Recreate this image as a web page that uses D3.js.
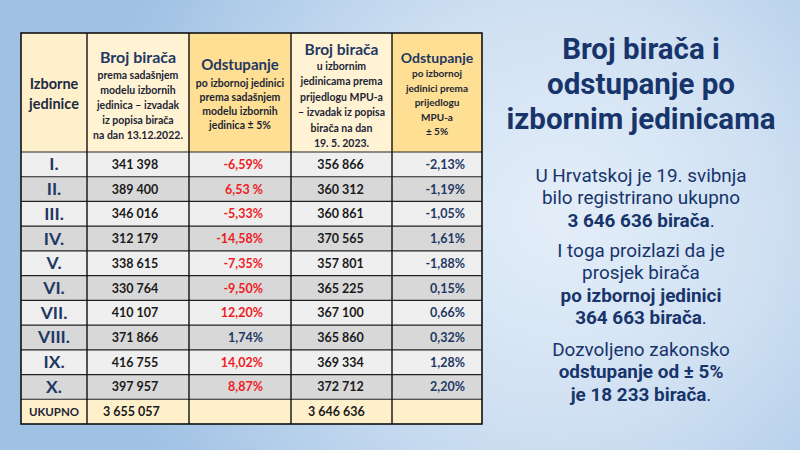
<!DOCTYPE html>
<html><head><meta charset="utf-8">
<script src="https://cdn.jsdelivr.net/npm/d3@7"></script>
<style>html,body{margin:0;padding:0;overflow:hidden;}svg{display:block;}</style>
</head><body>
<script>
// ---- data ----
const units = ["I.", "II.", "III.", "IV.", "V.", "VI.", "VII.", "VIII.", "IX.", "X."];
const votersCurrent = [341398, 389400, 346016, 312179, 338615, 330764, 410107, 371866, 416755, 397957];
const deviationCurrent = [-6.59, 6.53, -5.33, -14.58, -7.35, -9.50, 12.20, 1.74, 14.02, 8.87];
const deviationCurrentLabels = ["-6,59%", "6,53 %", "-5,33%", "-14,58%", "-7,35%", "-9,50%", "12,20%", "1,74%", "14,02%", "8,87%"];
const votersProposed = [356866, 360312, 360861, 370565, 357801, 365225, 367100, 365860, 369334, 372712];
const deviationProposed = [-2.13, -1.19, -1.05, 1.61, -1.88, 0.15, 0.66, 0.32, 1.28, 2.20];
const totalLabel = "UKUPNO";
const totals = [3655057, 3646636];
const columns = ["unit", "votersCurrent", "devCurrent", "votersProposed", "devProposed"];
const headerCol0 = ["Izborne", "jedinice"];
const headerCol1Title = "Broj birača";
const headerCol1Sub = ["prema sadašnjem", "modelu izbornih", "jedinica –  izvadak", "iz popisa birača", "na dan 13.12.2022."];
const headerCol2Title = "Odstupanje";
const headerCol2Sub = ["po izbornoj jedinici", "prema sadašnjem", "modelu izbornih", "jedinica ± 5%"];
const headerCol3Title = "Broj birača";
const headerCol3Sub = ["u izbornim", "jedinicama prema", "prijedlogu MPU-a", "– izvadak iz popisa", "birača na dan", "19. 5. 2023."];
const headerCol4Title = "Odstupanje";
const headerCol4Sub = ["po izbornoj", "jedinici prema", "prijedlogu", "MPU-a", "± 5%"];
const titleLines = ["Broj birača i", "odstupanje po", "izbornim jedinicama"];
const noteParagraphs = [
  [{t: "U Hrvatskoj je 19. svibnja", b: false},
   {t: "bilo registrirano ukupno", b: false},
   {t: "3 646 636 birača", b: true, dot: true}],
  [{t: "I toga proizlazi da je", b: false},
   {t: "prosjek birača", b: false},
   {t: "po izbornoj jedinici", b: true},
   {t: "364 663 birača", b: true, dot: true}],
  [{t: "Dozvoljeno zakonsko", b: false},
   {t: "odstupanje od ± 5%", b: true},
   {t: "je 18 233 birača", b: true, dot: true}]
];

// ---- setup ----
const W = 800, H = 450;
const FONT = "Lato, 'Open Sans', sans-serif";
const SIDE_FONT = "Roboto, 'Liberation Sans', sans-serif";
const NAVY = "#1f3864";
const svg = d3.select("body").append("svg").attr("width", W).attr("height", H);
const defs = svg.append("defs");
const rg = defs.append("radialGradient").attr("id", "bg").attr("gradientUnits", "userSpaceOnUse")
  .attr("cx", 560).attr("cy", 215).attr("r", 470);
rg.append("stop").attr("offset", "0").attr("stop-color", "#e4eef9");
rg.append("stop").attr("offset", "0.45").attr("stop-color", "#cfe0f2");
rg.append("stop").attr("offset", "1").attr("stop-color", "#9fc1e4");
svg.append("rect").attr("width", W).attr("height", H).attr("fill", "url(#bg)");

const locale = d3.formatLocale({decimal: ",", thousands: " ", grouping: [3], currency: ["", ""], minus: "-"});
const fmtInt = locale.format(",d");
const fmtPct = v => locale.format(".2f")(v) + "%";

// table geometry via scales
const colWidths = [66, 102, 102, 101, 90];
const colEdges = d3.cumsum([0].concat(colWidths));
const xCol = d3.scaleOrdinal().domain(columns).range(colEdges.slice(0, 5).map(v => 21 + v));
const wCol = d3.scaleOrdinal().domain(columns).range(colWidths);
const tableLeft = 21, tableRight = 21 + colEdges[5];
const headerTop = 33, headerBottom = 152;
const rowKeys = units.concat([totalLabel]);
const yRow = d3.scaleBand().domain(rowKeys).range([headerBottom, 424]).padding(0);

const g = svg.append("g");

// header cells
const headerFill = {unit: "#fff0cc", votersCurrent: "#fff3d3", devCurrent: "#fedf93", votersProposed: "#fff3d3", devProposed: "#fedf93"};
g.selectAll("rect.hdr").data(columns).join("rect").attr("class", "hdr")
  .attr("x", d => xCol(d)).attr("y", headerTop).attr("width", d => wCol(d)).attr("height", headerBottom - headerTop)
  .attr("fill", d => headerFill[d]);

// body rows
units.forEach((u, i) => {
  g.append("rect").attr("x", tableLeft).attr("y", yRow(u)).attr("width", tableRight - tableLeft)
    .attr("height", yRow.bandwidth()).attr("fill", i % 2 === 0 ? "#efefef" : "#d8d8d8");
});
g.append("rect").attr("x", tableLeft).attr("y", yRow(totalLabel)).attr("width", tableRight - tableLeft)
  .attr("height", yRow.bandwidth()).attr("fill", "#fff0cc");

// header texts (one text element per cell, lines as tspans)
const cx = c => xCol(c) + wCol(c) / 2;
function headerBlock(col, title, titleSize, titleY, subs, subGap, subStep, subSize) {
  const t = g.append("text").attr("x", cx(col)).attr("y", titleY).attr("text-anchor", "middle")
    .attr("font-family", FONT).attr("font-weight", 700);
  t.append("tspan").attr("font-size", titleSize).attr("fill", NAVY).text(title);
  subs.forEach((s, i) => {
    t.append("tspan").attr("x", cx(col)).attr("dy", i === 0 ? subGap : subStep)
      .attr("font-size", subSize).attr("fill", "#1d2535").text(s);
  });
}
{
  const t = g.append("text").attr("x", cx("unit")).attr("y", 89).attr("text-anchor", "middle")
    .attr("font-family", FONT).attr("font-weight", 700).attr("font-size", 14.5).attr("fill", "#1d2a40");
  headerCol0.forEach((s, i) => t.append("tspan").attr("x", cx("unit")).attr("dy", i === 0 ? 0 : 20).text(s));
}
headerBlock("votersCurrent", headerCol1Title, 16, 63, headerCol1Sub, 16, 15, 10.5);
headerBlock("devCurrent", headerCol2Title, 15, 70, headerCol2Sub, 17, 14, 10.5);
headerBlock("votersProposed", headerCol3Title, 15.5, 55, headerCol3Sub, 15, 15.4, 10.5);
headerBlock("devProposed", headerCol4Title, 14, 63, headerCol4Sub, 14, 14.5, 10);

// body texts
const midY = k => yRow(k) + yRow.bandwidth() / 2;
const rows = units.map((u, i) => ({u, vc: votersCurrent[i], dc: deviationCurrent[i], dcl: deviationCurrentLabels[i], vp: votersProposed[i], dp: deviationProposed[i]}));
const body = g.selectAll("g.row").data(rows).join("g").attr("class", "row");
body.append("text").attr("x", cx("unit")).attr("y", d => midY(d.u) + 6).attr("text-anchor", "middle")
  .attr("font-family", FONT).attr("font-weight", 700).attr("font-size", 17.5).attr("fill", NAVY).text(d => d.u);
body.append("text").attr("x", cx("votersCurrent") - 3).attr("y", d => midY(d.u) + 4.5).attr("text-anchor", "middle")
  .attr("font-family", FONT).attr("font-weight", 700).attr("font-size", 12.5).attr("fill", "#1a1a1a").text(d => fmtInt(d.vc));
body.append("text").attr("x", xCol("devCurrent") + wCol("devCurrent") - 28).attr("y", d => midY(d.u) + 4.5).attr("text-anchor", "end")
  .attr("font-family", FONT).attr("font-weight", 700).attr("font-size", 12.5)
  .attr("fill", d => Math.abs(d.dc) > 5 ? "#ee1c25" : NAVY).text(d => d.dcl);
body.append("text").attr("x", cx("votersProposed") - 1).attr("y", d => midY(d.u) + 4.5).attr("text-anchor", "middle")
  .attr("font-family", FONT).attr("font-weight", 700).attr("font-size", 12.5).attr("fill", "#1a1a1a").text(d => fmtInt(d.vp));
body.append("text").attr("x", xCol("devProposed") + wCol("devProposed") - 17).attr("y", d => midY(d.u) + 4.5).attr("text-anchor", "end")
  .attr("font-family", FONT).attr("font-weight", 700).attr("font-size", 12.5)
  .attr("fill", d => Math.abs(d.dp) > 5 ? "#ee1c25" : NAVY).text(d => fmtPct(d.dp));

// totals row
g.append("text").attr("x", cx("unit")).attr("y", midY(totalLabel) + 4).attr("text-anchor", "middle")
  .attr("font-family", FONT).attr("font-weight", 700).attr("font-size", 11.5).attr("fill", "#1d2535").text(totalLabel);
g.append("text").attr("x", xCol("votersCurrent") + 16).attr("y", midY(totalLabel) + 4.5)
  .attr("font-family", FONT).attr("font-weight", 700).attr("font-size", 12.5).attr("fill", "#1a1a1a").text(fmtInt(totals[0]));
g.append("text").attr("x", xCol("votersProposed") + 17).attr("y", midY(totalLabel) + 4.5)
  .attr("font-family", FONT).attr("font-weight", 700).attr("font-size", 12.5).attr("fill", "#1a1a1a").text(fmtInt(totals[1]));

// grid lines
rowKeys.forEach(k => {
  g.append("line").attr("x1", tableLeft).attr("x2", tableRight).attr("y1", yRow(k)).attr("y2", yRow(k))
    .attr("stroke", "#222").attr("stroke-width", 1.2);
});
columns.slice(1).forEach(c => {
  g.append("line").attr("x1", xCol(c)).attr("x2", xCol(c)).attr("y1", headerTop).attr("y2", 424)
    .attr("stroke", "#111").attr("stroke-width", 1.4);
});
g.append("rect").attr("x", tableLeft).attr("y", headerTop).attr("width", tableRight - tableLeft).attr("height", 424 - headerTop)
  .attr("fill", "none").attr("stroke", "#111").attr("stroke-width", 1.6);

// helper: fit font size so a reference line reaches a target width, capped
function fitSize(text, weight, family, targetW, cap) {
  const probe = svg.append("text").attr("font-family", family).attr("font-weight", weight)
    .attr("font-size", 20).text(text);
  const w = probe.node().getComputedTextLength();
  probe.remove();
  return Math.min(cap, 20 * targetW / w);
}

// title (single text, lines as tspans)
{
  const fs = fitSize(titleLines[2], 700, SIDE_FONT, 283, 29.5);
  const t = svg.append("text").attr("x", 641).attr("y", 59).attr("text-anchor", "middle")
    .attr("font-family", SIDE_FONT).attr("font-weight", 700).attr("font-size", fs).attr("fill", "#17346b");
  titleLines.forEach((s, i) => t.append("tspan").attr("x", 641).attr("dy", i === 0 ? 0 : 35).text(s));
}

// notes: one text per paragraph
const noteFs = fitSize(noteParagraphs[0][0].t, 400, SIDE_FONT, 235, 18.9);
const paraY = [182, 257, 356];
noteParagraphs.forEach((para, p) => {
  const t = svg.append("text").attr("x", 641).attr("y", paraY[p]).attr("text-anchor", "middle")
    .attr("font-family", SIDE_FONT).attr("font-size", noteFs).attr("fill", "#17346b");
  para.forEach((d, i) => {
    t.append("tspan").attr("x", 641).attr("dy", i === 0 ? 0 : 22.3)
      .attr("font-weight", d.b ? 700 : 400).text(d.t);
    if (d.dot) t.append("tspan").attr("font-weight", 400).text(".");
  });
});
</script>
</body></html>
